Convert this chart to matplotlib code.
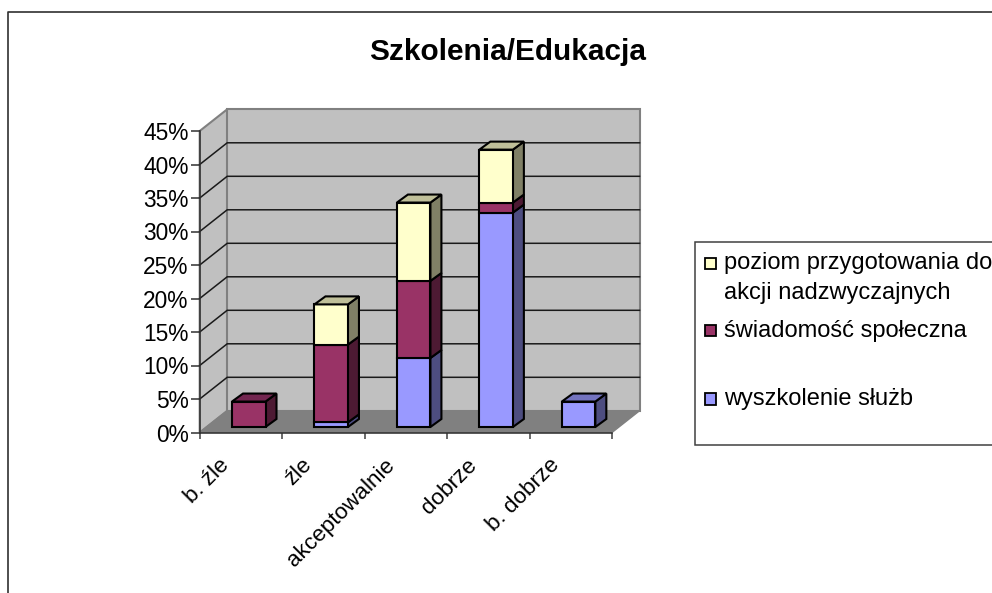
import matplotlib
matplotlib.use("Agg")
import matplotlib.pyplot as plt
from matplotlib.patches import Polygon, Rectangle

plt.rcParams["font.family"] = ["Liberation Sans", "DejaVu Sans"]

W, H = 992, 593

categories = ["b. źle", "źle", "akceptowalnie", "dobrze", "b. dobrze"]
series_names = ["wyszkolenie służb", "świadomość społeczna", "poziom przygotowania do\nakcji nadzwyczajnych"]
wyszkolenie = [0, 0.7, 10.3, 32.0, 3.8]
swiadomosc = [3.8, 11.6, 11.5, 1.5, 0]
poziom = [0, 6.0, 11.7, 7.9, 0]
y_ticks = [0, 5, 10, 15, 20, 25, 30, 35, 40, 45]

# front / side / top shades per series
shades = [("#9999FF", "#4D4D80", "#7373BF"),
          ("#993366", "#4D1A33", "#732650"),
          ("#FFFFCC", "#808066", "#BFBF99")]


def px_axes(x0, y0, x1, y1):
    return fig.add_axes([x0 / W, 1 - y1 / H, (x1 - x0) / W, (y1 - y0) / H])


def face(ax, pts, fc, ec="black", lw=1.5, z=3):
    ax.add_patch(Polygon(pts, closed=True, facecolor=fc, edgecolor=ec, linewidth=lw,
                         joinstyle="miter", clip_on=False, zorder=z))


fig = plt.figure(figsize=(W / 100, H / 100), dpi=100)

# overlay in pixels for the outer frame and the legend box
bg = fig.add_axes([0, 0, 1, 1])
bg.set_xlim(0, W)
bg.set_ylim(H, 0)
bg.axis("off")
bg.plot([8, 8, W + 5], [H + 5, 12, 12], color="#303030", lw=1.2, clip_on=False)
bg.add_patch(Rectangle((694.5, 242), 320, 203, fc="white", ec="#404040", lw=1.1))
bg.text(507.5, 60, "Szkolenia/Edukacja", fontsize=21.4, fontweight="bold", ha="center", va="baseline")

# main axes = the front plane of the 3D box
ax = px_axes(199.7, 131, 612, 432.5)
ax.set_xlim(0, 5)
ax.set_ylim(0, 45)
ax.patch.set_alpha(0)

# depth of the box and of the bars, in data units
sx = 5 / (612 - 199.7)
sy = 45 / (432.5 - 131)
DX, DY = 27.5 * sx, 21.7 * sy
BAR_W = 33.5 * sx
BAR_DX, BAR_DY = 11 * sx, 8 * sy
BAR_OFF = 32.3 * sx
BAR_BASE = 5.5 * sy

# walls and floor
face(ax, [(0, 0), (DX, DY), (DX, 45 + DY), (0, 45)], "#C0C0C0", ec="#808080", lw=1.5, z=1)
face(ax, [(DX, DY), (5 + DX, DY), (5 + DX, 45 + DY), (DX, 45 + DY)], "#C0C0C0", ec="#808080", lw=1.5, z=1)
face(ax, [(0, 0), (5, 0), (5 + DX, DY), (DX, DY)], "#808080", ec="#808080", lw=1, z=1)
for v in y_ticks[1:-1]:
    ax.plot([0, DX, 5 + DX], [v, v + DY, v + DY], color="#1A1A1A", lw=1.1, clip_on=False, zorder=2)

# stacked bars
for i in range(len(categories)):
    x0 = i + BAR_OFF
    x1 = x0 + BAR_W
    base = BAR_BASE
    for vals, (front, side, top) in zip([wyszkolenie, swiadomosc, poziom], shades):
        v = vals[i]
        if v == 0:
            continue
        t = base + v
        face(ax, [(x1, base), (x1 + BAR_DX, base + BAR_DY), (x1 + BAR_DX, t + BAR_DY), (x1, t)], side)
        face(ax, [(x0, base), (x1, base), (x1, t), (x0, t)], front)
        base = t
        last_top = top
    face(ax, [(x0, base), (x1, base), (x1 + BAR_DX, base + BAR_DY), (x0 + BAR_DX, base + BAR_DY)], last_top)

for s in ["top", "right"]:
    ax.spines[s].set_visible(False)
for s in ["left", "bottom"]:
    ax.spines[s].set_zorder(2)
    ax.spines[s].set_linewidth(1.1)
    ax.spines[s].set_color("#303030")

ax.set_yticks(y_ticks)
ax.set_yticklabels([f"{v}%" for v in y_ticks], fontsize=16.4, va="center_baseline")
ax.tick_params(axis="y", length=6.5, width=1.1, pad=1.5, color="#303030")
ax.set_xticks(range(6))
ax.set_xticklabels([])
ax.tick_params(axis="x", length=4, width=1.1, color="#404040")
ax.set_xticks([i + 0.235 for i in range(5)], minor=True)
ax.set_xticklabels(categories, minor=True, rotation=45, ha="right", va="top",
                   rotation_mode="anchor", fontsize=16.2)
ax.tick_params(axis="x", which="minor", length=0, pad=16)

# legend
for k, ym in [(2, 263.5), (1, 330.5), (0, 399)]:
    bg.add_patch(Rectangle((704.5, ym - 6), 11.5, 11.5, fc=shades[k][0], ec="black", lw=1.3))
line1, line2 = series_names[2].split("\n")
bg.text(724, 269, line1, fontsize=17, va="baseline", ha="left")
bg.text(724, 298.5, line2, fontsize=17, va="baseline", ha="left")
bg.text(724, 336.5, series_names[1], fontsize=17, va="baseline", ha="left")
bg.text(724, 405, series_names[0], fontsize=17, va="baseline", ha="left")

fig.savefig("out.png", dpi=100)
